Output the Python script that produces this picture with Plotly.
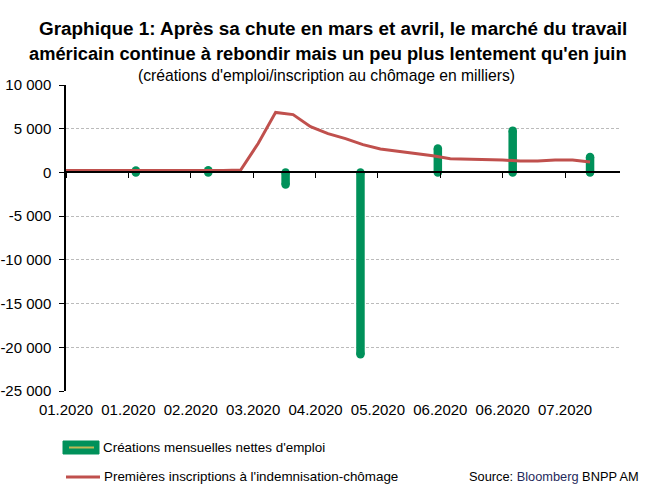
import plotly.graph_objects as go

# first jobless claims, weekly (thousands)
claims_dates = [
    "2020-01-04", "2020-01-11", "2020-01-18", "2020-01-25", "2020-02-01",
    "2020-02-08", "2020-02-15", "2020-02-22", "2020-02-29", "2020-03-07",
    "2020-03-14", "2020-03-21", "2020-03-28", "2020-04-04", "2020-04-11",
    "2020-04-18", "2020-04-25", "2020-05-02", "2020-05-09", "2020-05-16",
    "2020-05-23", "2020-05-30", "2020-06-06", "2020-06-13", "2020-06-20",
    "2020-06-27", "2020-07-04", "2020-07-11", "2020-07-18", "2020-07-25",
    "2020-08-01",
]
claims = [
    214, 207, 223, 216, 202, 205, 214, 219, 217, 211,
    282, 3307, 6867, 6615, 5237, 4442, 3867, 3176, 2687, 2446,
    2123, 1897, 1566, 1540, 1482, 1413, 1310, 1307, 1422, 1434,
    1186,
]

# monthly nonfarm payrolls (thousands), plotted at start of following month
payroll_dates = ["2020-02-01", "2020-03-01", "2020-04-01", "2020-05-01",
                 "2020-06-01", "2020-07-01", "2020-08-01"]
payrolls = [214, 251, -1373, -20787, 2725, 4781, 1763]

y_ticks = [-25000, -20000, -15000, -10000, -5000, 0, 5000, 10000]
y_ticktext = ["-25 000", "-20 000", "-15 000", "-10 000", "-5 000", "0", "5 000", "10 000"]

GREEN = "#00915a"
RED = "#c0504d"
FONT = "Liberation Sans, Arial"

# build the vertical sticks (0 -> value) as one broken line
bx, by = [], []
for d, v in zip(payroll_dates, payrolls):
    bx += [d, d, None]
    by += [0, v, None]

fig = go.Figure()
fig.add_trace(go.Scatter(
    x=bx, y=by, mode="lines+markers",
    line=dict(color=GREEN, width=8.5),
    marker=dict(color=GREEN, size=8.5),
    connectgaps=False, showlegend=False, hoverinfo="skip",
))
fig.add_trace(go.Scatter(
    x=claims_dates, y=claims, mode="lines",
    line=dict(color=RED, width=3),
    xaxis="x2", showlegend=False,
))

# plot area in pixels
W, H = 647, 493
L, R, T, B = 66, 620, 85, 391
def px(x):
    return (x - L) / (R - L)
def py(y):
    return (B - y) / (B - T)

xr = ["2020-01-04", "2020-08-13"]
dt = 25 * 86400000

fig.update_layout(
    width=W, height=H,
    margin=dict(l=L, r=W - R, t=T, b=H - B, autoexpand=False),
    plot_bgcolor="white", paper_bgcolor="white",
    font=dict(family=FONT, size=15, color="black"),
    xaxis=dict(
        type="date", range=xr, tick0="2020-01-04", dtick=dt,
        tickformat="%m.%Y", showgrid=False, showline=False, zeroline=False,
        ticks="", ticklabelstandoff=8, automargin=False,
        tickfont=dict(family=FONT, size=15),
    ),
    xaxis2=dict(
        type="date", matches="x", overlaying="x", anchor="free",
        position=25000 / 35000, tick0="2020-01-04", dtick=dt,
        showticklabels=False, showgrid=False, zeroline=False, automargin=False,
        showline=True, linecolor="black", linewidth=1.5,
        ticks="outside", ticklen=5, tickcolor="black", tickwidth=1,
    ),
    yaxis=dict(
        range=[-25000, 10000], tickvals=y_ticks, ticktext=y_ticktext,
        showline=True, linecolor="black", linewidth=1.5, automargin=False,
        ticks="outside", ticklen=5, tickcolor="black", ticklabelstandoff=5,
        showgrid=True, gridcolor="#bbbbbb", griddash="3px,2px", gridwidth=1,
        zeroline=False, tickfont=dict(family=FONT, size=15),
    ),
)

fig.add_annotation(x=px(333), y=py(29), xref="paper", yref="paper", showarrow=False,
                   text="<b>Graphique 1: Après sa chute en mars et avril, le marché du travail</b>",
                   font=dict(family=FONT, size=18.9), xanchor="center", yanchor="middle")
fig.add_annotation(x=px(328), y=py(54), xref="paper", yref="paper", showarrow=False,
                   text="<b>américain continue à rebondir mais un peu plus lentement qu'en juin</b>",
                   font=dict(family=FONT, size=18.3), xanchor="center", yanchor="middle")
fig.add_annotation(x=px(326), y=py(75.5), xref="paper", yref="paper", showarrow=False,
                   text="(créations d'emploi/inscription au chômage en milliers)",
                   font=dict(family=FONT, size=15.7), xanchor="center", yanchor="middle")

# legend
fig.add_shape(type="rect", xref="paper", yref="paper",
              x0=px(63), x1=px(99), y0=py(441), y1=py(454),
              fillcolor=GREEN, line=dict(color=GREEN, width=1))
fig.add_shape(type="line", xref="paper", yref="paper",
              x0=px(69), x1=px(94), y0=py(447.5), y1=py(447.5),
              line=dict(color="#bdb855", width=2))
fig.add_annotation(x=px(101), y=py(447), xref="paper", yref="paper", showarrow=False,
                   text="Créations mensuelles nettes d'emploi",
                   font=dict(family=FONT, size=13.4), xanchor="left", yanchor="middle")
fig.add_shape(type="line", xref="paper", yref="paper",
              x0=px(66), x1=px(100), y0=py(477), y1=py(477),
              line=dict(color=RED, width=3))
fig.add_annotation(x=px(102), y=py(477), xref="paper", yref="paper", showarrow=False,
                   text="Premières inscriptions à l'indemnisation-chômage",
                   font=dict(family=FONT, size=13.4), xanchor="left", yanchor="middle")
fig.add_annotation(x=px(641), y=py(477), xref="paper", yref="paper", showarrow=False,
                   text="Source: <span style='color:#1f2a5c'>Bloomberg</span> BNPP AM",
                   font=dict(family=FONT, size=12.8), xanchor="right", yanchor="middle")

# drop the default 8px page margin so the figure sits at the window origin
fig.write_html("out.html", config={"displayModeBar": False},
               post_script="document.body.style.margin='0';")
